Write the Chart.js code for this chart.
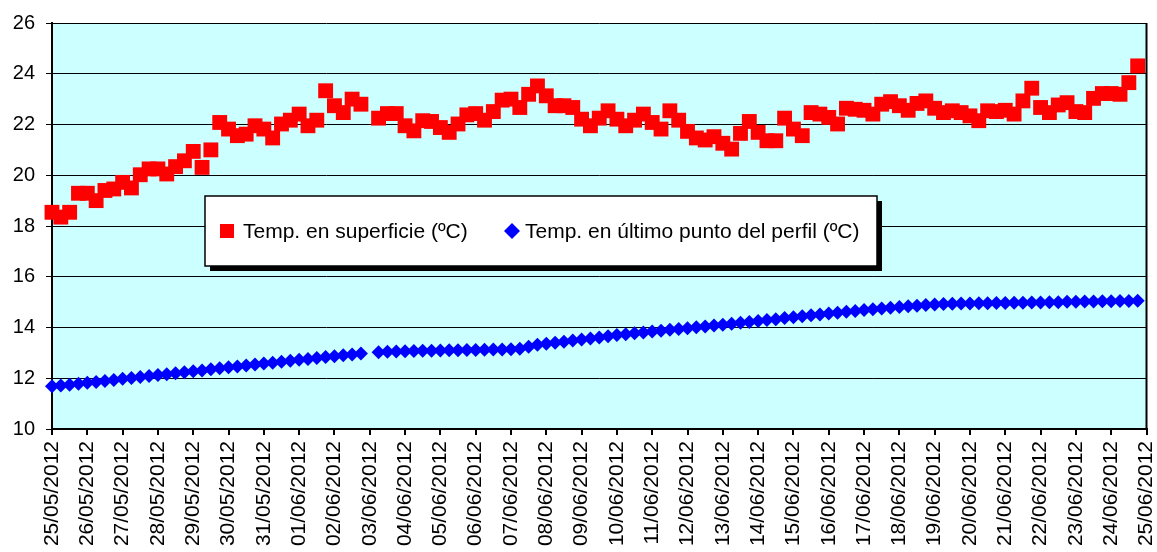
<!DOCTYPE html>
<html>
<head>
<meta charset="utf-8">
<script src="https://cdn.jsdelivr.net/npm/chart.js@4.4.0/dist/chart.umd.min.js"></script>
<style>
  body { margin: 0; background: #ffffff; }
</style>
</head>
<body>
<canvas id="temperaturas" width="1157" height="552"></canvas>
<script>
// fechas del eje X (una etiqueta por dia)
const dias = [
  "25/05/2012", "26/05/2012", "27/05/2012", "28/05/2012", "29/05/2012", "30/05/2012",
  "31/05/2012", "01/06/2012", "02/06/2012", "03/06/2012", "04/06/2012", "05/06/2012",
  "06/06/2012", "07/06/2012", "08/06/2012", "09/06/2012", "10/06/2012", "11/06/2012",
  "12/06/2012", "13/06/2012", "14/06/2012", "15/06/2012", "16/06/2012", "17/06/2012",
  "18/06/2012", "19/06/2012", "20/06/2012", "21/06/2012", "22/06/2012", "23/06/2012",
  "24/06/2012", "25/06/2012"
];

// lecturas cada 6 horas
const lecturasPorDia = 4;

// Temp. en superficie (ºC)
const superficie = [
  18.54, 18.35, 18.54, 19.29, 19.29, 19.0, 19.4, 19.46, 19.72, 19.5,
  20.02, 20.25, 20.25, 20.05, 20.34, 20.57, 20.94, 20.31, 21.0, 22.08,
  21.82, 21.56, 21.62, 21.95, 21.82, 21.47, 22.02, 22.17, 22.41, 21.95,
  22.17, 23.33, 22.74, 22.47, 23.0, 22.8, null, 22.25, 22.43, 22.43,
  21.95, 21.75, 22.15, 22.12, 21.88, 21.69, 22.02, 22.38, 22.43, 22.17,
  22.51, 22.96, 23.0, 22.67, 23.19, 23.52, 23.13, 22.74, 22.74, 22.67,
  22.21, 21.95, 22.25, 22.54, 22.21, 21.95, 22.17, 22.41, 22.08, 21.82,
  22.54, 22.17, 21.73, 21.47, 21.39, 21.52, 21.26, 21.03, 21.65, 22.12,
  21.69, 21.36, 21.36, 22.25, 21.82, 21.56, 22.47, 22.41, 22.28, 22.02,
  22.64, 22.6, 22.56, 22.41, 22.8, 22.9, 22.74, 22.56, 22.83, 22.93,
  22.64, 22.47, 22.54, 22.47, 22.34, 22.15, 22.54, 22.51, 22.56, 22.41,
  22.93, 23.43, 22.67, 22.47, 22.77, 22.86, 22.51, 22.47, 23.03, 23.22,
  23.22, 23.19, 23.65, 24.31
];

// Temp. en último punto del perfil (ºC)
const ultimoPunto = [
  11.68, 11.71, 11.74, 11.78, 11.82, 11.85, 11.89, 11.93, 11.98, 12.01,
  12.05, 12.09, 12.13, 12.16, 12.2, 12.24, 12.28, 12.31, 12.35, 12.39,
  12.43, 12.46, 12.5, 12.54, 12.58, 12.61, 12.65, 12.69, 12.73, 12.76,
  12.8, 12.84, 12.87, 12.91, 12.94, 12.98, null, 13.02, 13.04, 13.05,
  13.06, 13.07, 13.08, 13.08, 13.09, 13.1, 13.1, 13.11, 13.11, 13.12,
  13.13, 13.13, 13.14, 13.16, 13.24, 13.32, 13.36, 13.4, 13.44, 13.49,
  13.53, 13.57, 13.61, 13.66, 13.7, 13.73, 13.77, 13.8, 13.84, 13.87,
  13.91, 13.94, 13.97, 14.01, 14.04, 14.08, 14.11, 14.15, 14.19, 14.22,
  14.26, 14.3, 14.33, 14.37, 14.4, 14.44, 14.48, 14.51, 14.55, 14.58,
  14.62, 14.65, 14.69, 14.72, 14.75, 14.78, 14.81, 14.84, 14.86, 14.89,
  14.91, 14.93, 14.94, 14.95, 14.95, 14.96, 14.96, 14.97, 14.97, 14.98,
  14.98, 14.99, 14.99, 15.0, 15.0, 15.01, 15.01, 15.02, 15.02, 15.03,
  15.03, 15.04, 15.04, 15.05
];

const yMin = 10;
const yMax = 26;
const yPaso = 2;

function puntos(serie) {
  return serie.map((v, i) => ({ x: i / lecturasPorDia, y: v }));
}

// fondo celeste del area de trazado + borde derecho
const fondoPlot = {
  id: "fondoPlot",
  beforeDraw(chart) {
    const { ctx, chartArea } = chart;
    ctx.save();
    ctx.fillStyle = "#CCFFFF";
    ctx.fillRect(chartArea.left, chartArea.top, chartArea.right - chartArea.left, chartArea.bottom - chartArea.top);
    ctx.restore();
  },
  afterDraw(chart) {
    const { ctx, chartArea } = chart;
    ctx.save();
    ctx.strokeStyle = "#000";
    ctx.lineWidth = 2;
    ctx.beginPath();
    ctx.moveTo(chartArea.right, chartArea.top);
    ctx.lineTo(chartArea.right, chartArea.bottom);
    ctx.stroke();
    ctx.restore();
  },
};

// leyenda en recuadro con sombra, dentro del grafico
const leyenda = {
  id: "leyenda",
  afterDraw(chart) {
    const ctx = chart.ctx;
    const x = 205, y = 196, w = 672, h = 70;
    ctx.save();
    ctx.fillStyle = "#000";
    ctx.fillRect(x + 5, y + 5, w, h);
    ctx.fillStyle = "#fff";
    ctx.fillRect(x, y, w, h);
    ctx.strokeStyle = "#000";
    ctx.lineWidth = 1.5;
    ctx.strokeRect(x, y, w, h);

    const ds = chart.data.datasets;
    const cy = y + h / 2;
    ctx.font = "21px 'Liberation Sans', Arial, sans-serif";
    ctx.textBaseline = "middle";
    ctx.fillStyle = "#000";

    // serie 1: cuadrado
    ctx.fillStyle = ds[0].backgroundColor;
    ctx.fillRect(220, cy - 7, 14, 14);
    ctx.fillStyle = "#000";
    ctx.fillText(ds[0].label, 243, cy + 1);

    // serie 2: rombo
    ctx.fillStyle = ds[1].backgroundColor;
    ctx.beginPath();
    ctx.moveTo(512, cy - 8);
    ctx.lineTo(520, cy);
    ctx.lineTo(512, cy + 8);
    ctx.lineTo(504, cy);
    ctx.closePath();
    ctx.fill();
    ctx.fillStyle = "#000";
    ctx.fillText(ds[1].label, 525, cy + 1);
    ctx.restore();
  },
};

new Chart(document.getElementById("temperaturas"), {
  type: "line",
  data: {
    datasets: [
      {
        label: "Temp. en superficie (ºC)",
        data: puntos(superficie),
        showLine: false,
        clip: false,
        pointStyle: "rect",
        pointRadius: 10.5,
        pointBorderWidth: 0,
        backgroundColor: "#FF0000",
        borderColor: "#FF0000",
      },
      {
        label: "Temp. en último punto del perfil (ºC)",
        data: puntos(ultimoPunto),
        showLine: false,
        clip: false,
        pointStyle: "rectRot",
        pointRadius: 7,
        pointBorderWidth: 0,
        backgroundColor: "#0000FF",
        borderColor: "#0000FF",
      },
    ],
  },
  options: {
    responsive: false,
    animation: false,
    layout: {
      padding: { left: 0, right: 7, top: 22, bottom: 0 },
    },
    plugins: {
      legend: { display: false },
      tooltip: { enabled: false },
    },
    scales: {
      x: {
        type: "linear",
        min: 0,
        max: dias.length - 1,
        afterFit(scale) {
          scale.height = 123;
          scale.paddingLeft = 0;
          scale.paddingRight = 0;
        },
        ticks: {
          stepSize: 1,
          autoSkip: false,
          minRotation: 90,
          maxRotation: 90,
          padding: 6,
          color: "#000",
          font: { family: "'Liberation Sans', Arial", size: 21 },
          callback: (v) => dias[v],
        },
        grid: {
          drawOnChartArea: false,
          drawTicks: true,
          tickLength: 6,
          color: "#000",
          lineWidth: 2,
        },
        border: { display: true, color: "#000", width: 2 },
      },
      y: {
        min: yMin,
        max: yMax,
        afterFit(scale) {
          scale.width = 52;
        },
        ticks: {
          stepSize: yPaso,
          padding: 11,
          color: "#000",
          font: { family: "'Liberation Sans', Arial", size: 20 },
        },
        grid: {
          drawTicks: true,
          tickLength: 6,
          color: "#000",
          lineWidth: 1,
        },
        border: { display: true, color: "#000", width: 2 },
      },
    },
  },
  plugins: [fondoPlot, leyenda],
});
</script>
</body>
</html>
